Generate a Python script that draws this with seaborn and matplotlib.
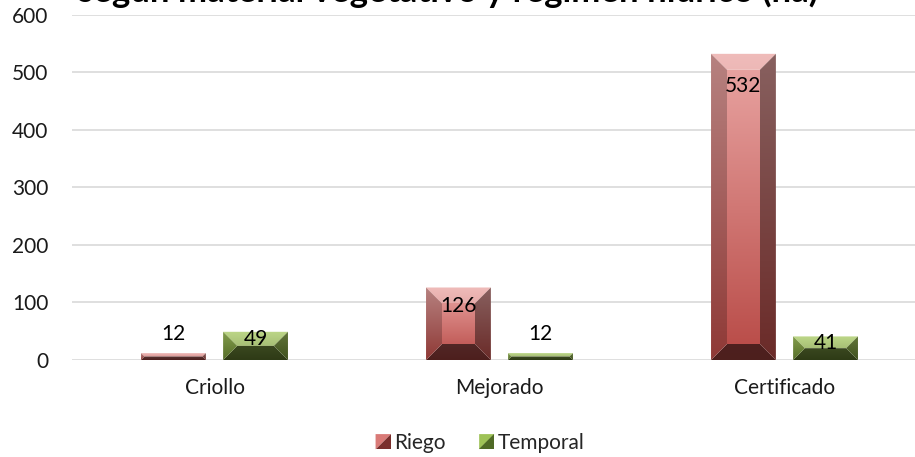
import numpy as np
import pandas as pd
import matplotlib
matplotlib.use("Agg")
import matplotlib.pyplot as plt
import seaborn as sns
from matplotlib.patches import Polygon, Patch
from matplotlib.legend_handler import HandlerPatch
from matplotlib.colors import to_rgb

categories = ["Criollo", "Mejorado", "Certificado"]
series_names = ["Riego", "Temporal"]
riego = [12, 126, 532]
temporal = [49, 12, 41]
yticks = [0, 100, 200, 300, 400, 500, 600]
title = "según material vegetativo y régimen hídrico (ha)"

df = pd.DataFrame({
    "cat": categories * 2,
    "serie": [series_names[0]] * 3 + [series_names[1]] * 3,
    "val": riego + temporal,
})

sns.set_theme(style="white")
plt.rcParams["font.family"] = ["Lato", "DejaVu Sans"]

W, H = 915, 457
fig = plt.figure(figsize=(W / 100, H / 100), dpi=100)
ax_l, ax_r, ax_t, ax_b = 72, 927, 14.7, 360
ax = fig.add_axes([ax_l / W, 1 - ax_b / H, (ax_r - ax_l) / W, (ax_b - ax_t) / H])

pal = {"Riego": "#C0504D", "Temporal": "#8DB04A"}
sns.barplot(data=df, x="cat", y="val", hue="serie", palette=pal, ax=ax,
            width=0.576, gap=0.21, legend=False, errorbar=None)

ax.set_ylim(0, 600)
ax.set_xlim(-0.5, 2.5)
ax.set_yticks(yticks)
ax.set_xlabel("")
ax.set_ylabel("")
for s in ax.spines.values():
    s.set_visible(False)
ax.yaxis.grid(True, color="#D9D9D9", linewidth=1.2)
ax.set_axisbelow(True)
ax.tick_params(axis="y", length=0, pad=17, labelsize=15, labelcolor="#1a1a1a")
ax.tick_params(axis="x", length=0, pad=13, labelsize=15, labelcolor="#1a1a1a")

# gradient colour schemes per series: (top colour, bottom colour)
grad = {
    "Riego": ("#EAA6A4", "#B84A46"),
    "Temporal": ("#A8CA62", "#6E8C34"),
}
face_mod = {"center": 1.0, "left": 0.78, "right": 0.58, "top": 1.12, "bottom": 0.42}

px_x = (ax_r - ax_l) / 3.0      # pixels per category unit
px_y = (ax_b - ax_t) / 600.0    # pixels per data unit
BEV = 16.0

def make_grad(top, bottom, mod):
    t = np.array(to_rgb(top)); b = np.array(to_rgb(bottom))
    n = 64
    f = np.linspace(0, 1, n)[:, None]
    g = t * (1 - f) + b * f
    if mod > 1:
        g = g + (1 - g) * (mod - 1) * 2.0
    else:
        g = g * mod
    g = np.clip(g, 0, 1)
    return g[:, None, :]

patches = list(ax.patches)
order = [(s, i) for s in series_names for i in range(3)]
values = {"Riego": riego, "Temporal": temporal}
for p, (sname, ci) in zip(patches, order):
    x0 = p.get_x(); w = p.get_width(); x1 = x0 + w
    y0 = 0.0; h = p.get_height(); y1 = h
    p.set_visible(False)
    wpx = w * px_x; hpx = h * px_y
    bpx = min(BEV, wpx / 2, hpx / 2)
    bx = bpx / px_x; by = bpx / px_y
    faces = {
        "top": [(x0, y1), (x1, y1), (x1 - bx, y1 - by), (x0 + bx, y1 - by)],
        "bottom": [(x0, y0), (x1, y0), (x1 - bx, y0 + by), (x0 + bx, y0 + by)],
        "left": [(x0, y0), (x0 + bx, y0 + by), (x0 + bx, y1 - by), (x0, y1)],
        "right": [(x1, y0), (x1 - bx, y0 + by), (x1 - bx, y1 - by), (x1, y1)],
        "center": [(x0 + bx, y0 + by), (x1 - bx, y0 + by), (x1 - bx, y1 - by), (x0 + bx, y1 - by)],
    }
    top_c, bot_c = grad[sname]
    for fname, pts in faces.items():
        poly = Polygon(pts, closed=True, facecolor="none", edgecolor="none",
                       transform=ax.transData)
        ax.add_patch(poly)
        im = ax.imshow(make_grad(top_c, bot_c, face_mod[fname]),
                       extent=[x0, x1, y0, y1], aspect="auto",
                       interpolation="bilinear", zorder=2, origin="upper")
        im.set_clip_path(poly)
    # value label
    v = values[sname][ci]
    xc = (x0 + x1) / 2
    if hpx > 100:
        off = -32
    elif hpx > 50:
        off = -19
    elif hpx > 18:
        off = -7
    else:
        off = 19
    ax.annotate(str(v), (xc, y1), xytext=(0, off * 0.72), textcoords="offset points",
                ha="center", va="center", fontsize=15, color="black", zorder=5)

ax.set_xlim(-0.5, 2.5)
ax.set_ylim(0, 600)

# title (partially cut at top, as in reference)
fig.text(78 / W, 1 - 2 / H, title, ha="left", va="baseline", fontsize=25,
         fontweight="bold", color="black")

# legend with bevel-like split squares
class SplitHandler(HandlerPatch):
    def create_artists(self, legend, orig_handle, xdescent, ydescent, width, height, fontsize, trans):
        s = min(width, height)
        x0 = -xdescent + (width - s) / 2
        y0 = -ydescent + (height - s) / 2
        light = orig_handle.light
        dark = orig_handle.dark
        a = Polygon([(x0, y0 + s), (x0 + s, y0 + s), (x0, y0)], closed=True,
                    facecolor=light, edgecolor="none", transform=trans)
        b = Polygon([(x0 + s, y0 + s), (x0 + s, y0), (x0, y0)], closed=True,
                    facecolor=dark, edgecolor="none", transform=trans)
        return [a, b]

handles = []
for sname, (lc, dc) in zip(series_names, [("#D97A77", "#7A2E2C"), ("#9EC257", "#4F6A26")]):
    hp = Patch(facecolor=lc, label=sname)
    hp.light = lc; hp.dark = dc
    handles.append(hp)

fig.legend(handles=handles, labels=series_names, loc="center",
           bbox_to_anchor=(480 / W, 1 - 443 / H), ncol=2, frameon=False,
           fontsize=15, handlelength=0.75, handleheight=0.75, handletextpad=0.15,
           columnspacing=1.6, handler_map={Patch: SplitHandler()})

fig.savefig("out.png", dpi=100)
